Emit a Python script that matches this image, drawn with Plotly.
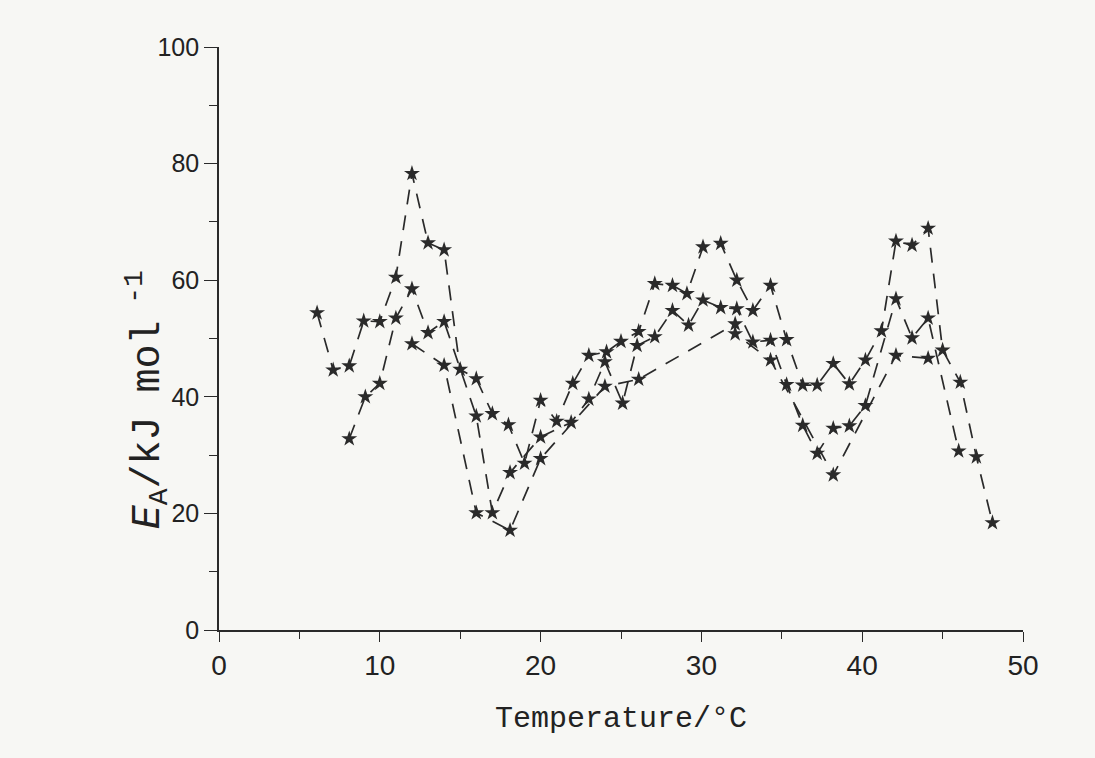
import plotly.graph_objects as go

# Series (temperature in °C, activation energy in kJ/mol)
t1 = [6.1, 7.1, 8.1, 9.0, 10.0, 11.0, 12.0, 13.0, 14.0, 15.0, 16.0, 17.0, 18.0, 19.0, 20.0,
      21.0, 22.0, 23.0, 24.1, 25.0, 26.1, 27.1, 28.2, 29.1, 30.1, 31.2, 32.2, 33.2, 34.3,
      35.3, 36.3, 37.2, 38.2, 39.2, 40.2, 41.2, 42.1, 43.1, 44.1, 45.0, 46.1, 47.1, 48.1]
e1 = [54.4, 44.6, 45.3, 53.0, 52.9, 60.5, 78.3, 66.4, 65.2, 44.7, 43.1, 37.1, 35.2, 28.6, 39.4,
      35.8, 42.3, 47.1, 47.7, 49.5, 51.2, 59.4, 59.1, 57.7, 65.7, 66.3, 60.0, 54.8, 59.1,
      49.8, 42.0, 42.0, 45.7, 42.2, 46.3, 51.3, 66.7, 66.0, 68.9, 48.0, 42.5, 29.7, 18.4]

t2 = [8.1, 9.1, 10.0, 11.0, 12.0, 13.0, 14.0, 16.0, 17.0, 18.1, 20.0, 21.9, 23.0, 24.0, 25.1,
      26.0, 27.1, 28.2, 29.2, 30.1, 31.2, 32.2, 33.2, 34.3, 35.3, 36.3, 37.2, 38.2, 39.2,
      40.2, 42.1, 43.1, 44.1, 46.0]
e2 = [32.8, 40.0, 42.3, 53.5, 58.5, 51.0, 52.9, 36.7, 20.1, 27.0, 33.1, 35.6, 39.6, 46.0, 38.9,
      48.8, 50.3, 54.8, 52.3, 56.6, 55.3, 55.1, 49.4, 49.7, 42.1, 35.1, 30.3, 34.6, 35.0,
      38.5, 56.8, 50.1, 53.5, 30.7]

t3 = [12.0, 14.0, 16.0, 18.1, 20.0, 24.0, 26.1, 32.1, 32.1, 34.3, 38.2, 42.1, 44.1]
e3 = [49.1, 45.4, 20.1, 17.1, 29.4, 41.8, 43.0, 52.5, 50.8, 46.3, 26.6, 47.1, 46.6]

x_ticks = [0, 10, 20, 30, 40, 50]
y_ticks = [0, 20, 40, 60, 80, 100]

ink = "#2a2a2a"
fig = go.Figure()
for tx, ey in [(t1, e1), (t2, e2), (t3, e3)]:
    fig.add_trace(go.Scatter(
        x=tx, y=ey, mode="lines+markers",
        line=dict(color=ink, width=1.7, dash="15px,11px"),
        marker=dict(symbol="star", size=12, color=ink),
        showlegend=False, hoverinfo="skip"))

mono = "Liberation Mono, DejaVu Sans Mono, monospace"
fig.update_xaxes(range=[0, 50], tickvals=x_ticks, ticktext=[str(v) for v in x_ticks],
                 ticks="outside", ticklen=10, tickwidth=1.3, tickcolor=ink,
                 showline=True, linecolor=ink, linewidth=1.6, showgrid=False, zeroline=False,
                 tickfont=dict(family="Liberation Sans Narrow, Liberation Sans, sans-serif",
                               size=28, color="#222"),
                 minor=dict(ticks="outside", tick0=0, dtick=5, ticklen=7, tickwidth=1.2,
                            tickcolor=ink, showgrid=False),
                 title=dict(text="Temperature/°C", standoff=26,
                            font=dict(family=mono, size=30, color="#222")))
fig.update_yaxes(range=[0, 100], tickvals=y_ticks, ticktext=[str(v) for v in y_ticks],
                 ticks="outside", ticklen=13, tickwidth=1.3, tickcolor=ink,
                 showline=True, linecolor=ink, linewidth=1.6, showgrid=False, zeroline=False,
                 tickfont=dict(family="Liberation Sans, Arial, sans-serif", size=25, color="#222"),
                 minor=dict(ticks="outside", tick0=0, dtick=10, ticklen=8, tickwidth=1.2,
                            tickcolor=ink, showgrid=False))
fig.add_annotation(text="<i>E</i><sub>A</sub>/kJ mol<sup> -1</sup>",
                   xref="paper", yref="paper", x=-0.09, y=0.395,
                   xanchor="center", yanchor="middle", textangle=-90, showarrow=False,
                   font=dict(family=mono, size=40, color="#222"))
fig.update_layout(width=1095, height=758,
                  margin=dict(l=219, r=72, t=47, b=128),
                  paper_bgcolor="#f7f7f4", plot_bgcolor="#f7f7f4")
fig.write_html("out.html")
